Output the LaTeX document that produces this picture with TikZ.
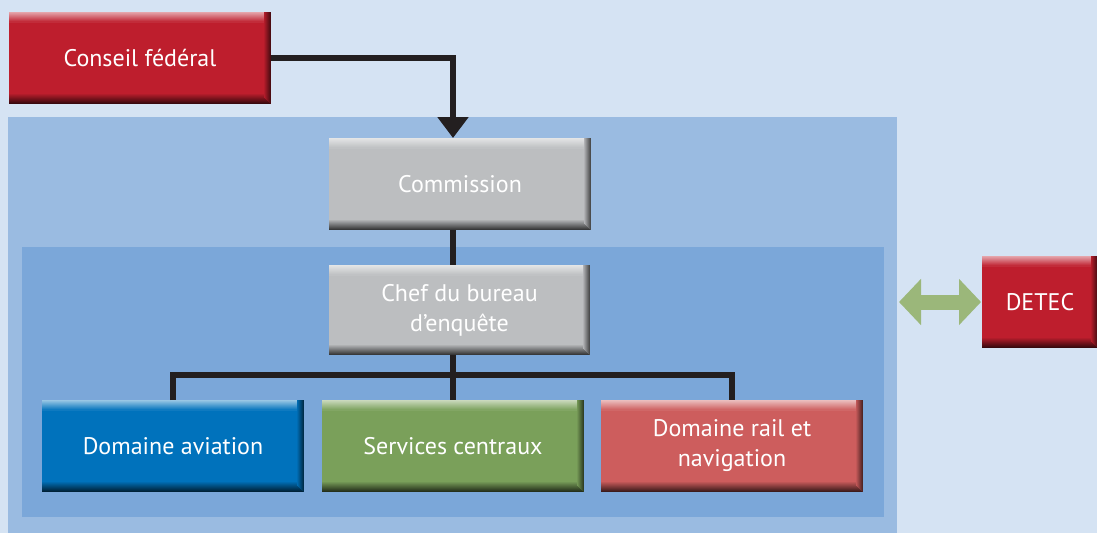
\documentclass[tikz,border=0pt]{standalone}
\usepackage{fontspec}
\setmainfont{PT Sans}
\usetikzlibrary{arrows.meta}
\definecolor{pagebg}{HTML}{D5E3F3}
\definecolor{outerbg}{HTML}{9ABBE1}
\definecolor{innerbg}{HTML}{7BA7D9}
\definecolor{fedred}{HTML}{BE1E2D}
\definecolor{boxgray}{HTML}{BCBEC0}
\definecolor{avblue}{HTML}{0072BC}
\definecolor{scgreen}{HTML}{7AA05A}
\definecolor{railred}{HTML}{CD5D5D}
\definecolor{linedark}{HTML}{231F20}
\definecolor{linkgreen}{HTML}{9BB77A}
\tikzset{
  orgbox/.style={
    fill=#1, inner sep=0pt, outer sep=0pt, anchor=north west,
    minimum width=262pt, minimum height=92pt,
    text=white, align=center, font=\fontsize{24}{30}\selectfont,
    path picture={
      % light bevel along the top edge
      \foreach \i in {0,...,9}{
        \pgfmathtruncatemacro\p{60-6*\i}
        \fill[white!\p!#1]
          ([yshift=-\i pt]path picture bounding box.north west) rectangle
          ([yshift=-\i pt-1.5pt]path picture bounding box.north east);
      }
      % dark bevel along the bottom edge
      \foreach \i in {0,...,9}{
        \pgfmathtruncatemacro\p{30+7*\i}
        \fill[#1!\p!black]
          ([yshift=\i pt]path picture bounding box.south west) rectangle
          ([yshift=\i pt+1.5pt]path picture bounding box.south east);
      }
      % dark bevel along the right edge
      \foreach \i in {0,...,6}{
        \pgfmathtruncatemacro\p{40+9*\i}
        \fill[#1!\p!black]
          ([xshift=-\i pt]path picture bounding box.north east) rectangle
          ([xshift=-\i pt-1.5pt,yshift=\i pt]path picture bounding box.south east);
      }
    }},
  conn/.style={draw=linedark, line width=6pt, line join=miter},
  twoway/.style={draw=linkgreen, line width=15pt,
    {Triangle[width=45pt,length=22pt]}-{Triangle[width=45pt,length=22pt]}}
}
\begin{document}
\begin{tikzpicture}[x=1pt,y=-1pt]
  \useasboundingbox (0,0) rectangle (1097,533);
  \fill[pagebg] (0,0) rectangle (1097,533);

  % nested background panels
  \node[fill=outerbg, inner sep=0pt, outer sep=0pt, anchor=north west,
        minimum width=889pt, minimum height=416pt] (outer) at (8,117) {};
  \node[fill=innerbg, inner sep=0pt, outer sep=0pt, anchor=north west,
        minimum width=862pt, minimum height=270pt] (inner) at (22,247) {};

  % boxes
  \node[orgbox=fedred] (cf) at (9,12) {Conseil fédéral};
  \node[orgbox=boxgray] (com) at (329,138) {Commission};
  \node[orgbox=boxgray, minimum width=261pt, minimum height=90pt] (chef) at (329,265) {Chef du bureau\\d’enquête};
  \node[orgbox=avblue] (av) at (42,400) {Domaine aviation};
  \node[orgbox=scgreen] (sc) at (322,400) {Services centraux};
  \node[orgbox=railred] (rail) at (601,400) {Domaine rail et\\navigation};
  \node[orgbox=fedred, minimum width=116pt] (det) at (982,256) {DETEC};

  % connectors, all on the vertical through the middle box below
  \draw[conn, -{Triangle[width=30pt,length=21pt]}] (cf.east) -| (com.north -| sc.north);
  \draw[conn] (com.south -| sc.north) -- (chef.north -| sc.north);
  \coordinate (bus) at (453,375);
  \draw[conn] (chef.south -| sc.north) -- (sc.north);
  \draw[conn] (av.north) -- (av.north |- bus) -- (rail.north |- bus) -- (rail.north);

  % link to DETEC
  \draw[twoway] ([xshift=2pt]outer.east |- det.west) -- ([xshift=-1pt]det.west);
\end{tikzpicture}
\end{document}
